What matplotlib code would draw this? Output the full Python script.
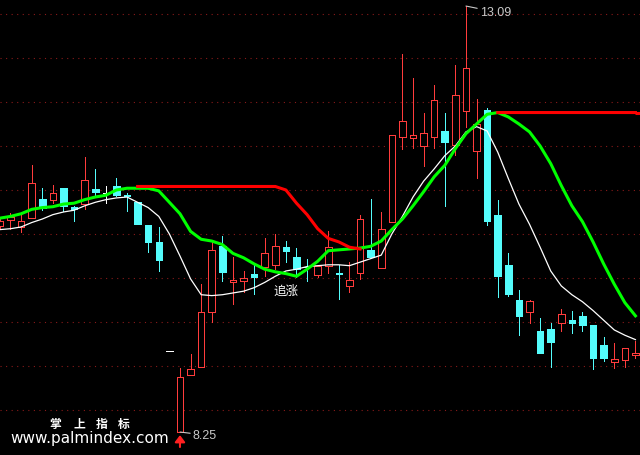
import matplotlib
matplotlib.use("Agg")
import matplotlib.pyplot as plt
import numpy as np

# candles (price units)
opens = [10.59, 10.66, 10.58, 10.68, 10.90, 10.89, 11.02, 10.81, 10.84, 11.01,
         10.97, 11.05, 10.94, 10.86, 10.60, 10.41, 9.17, 8.25, 8.90, 8.99,
         9.61, 10.36, 9.96, 9.97, 10.05, 10.13, 10.15, 10.35, 10.24, 10.13,
         10.03, 10.14, 10.06, 9.91, 10.06, 10.32, 10.11, 10.64, 11.60, 11.59,
         11.50, 11.60, 11.67, 11.51, 11.90, 11.44, 11.91, 10.72, 10.15, 9.75,
         9.61, 9.40, 9.42, 9.49, 9.52, 9.57, 9.47, 9.24, 9.05, 9.07, 9.13]
highs = [10.68, 10.74, 10.73, 11.28, 11.02, 11.06, 11.02, 10.82, 11.38, 11.24,
         11.05, 11.14, 10.97, 10.86, 10.60, 10.58, 9.17, 8.98, 9.14, 9.93,
         10.41, 10.48, 10.24, 10.08, 10.15, 10.45, 10.50, 10.42, 10.34, 10.22,
         10.14, 10.53, 10.15, 10.18, 10.72, 10.90, 10.75, 11.63, 12.55, 12.27,
         11.88, 12.19, 11.88, 12.42, 13.09, 12.03, 11.93, 10.89, 10.28, 9.86,
         9.75, 9.55, 9.49, 9.65, 9.63, 9.61, 9.47, 9.33, 9.26, 9.20, 9.28]
lows = [10.57, 10.56, 10.52, 10.68, 10.77, 10.85, 10.76, 10.65, 10.78, 10.93,
        10.85, 10.93, 10.76, 10.61, 10.30, 10.08, 9.17, 8.25, 8.90, 8.99,
        9.50, 9.97, 9.70, 9.84, 9.82, 10.02, 10.10, 10.18, 10.01, 9.97,
        10.01, 10.06, 9.76, 9.84, 9.99, 10.24, 10.11, 10.64, 11.47, 11.48,
        11.27, 11.48, 10.82, 11.40, 11.72, 11.14, 10.60, 9.78, 9.80, 9.35,
        9.49, 9.15, 8.99, 9.40, 9.38, 9.40, 8.97, 9.06, 8.98, 8.99, 9.09]
closes = [10.65, 10.69, 10.65, 11.08, 10.80, 10.97, 10.82, 10.78, 11.11, 10.98,
          10.97, 10.94, 10.93, 10.61, 10.41, 10.20, 9.17, 8.88, 8.97, 9.61,
          10.32, 10.07, 9.98, 10.00, 10.01, 10.28, 10.36, 10.31, 10.10, 10.12,
          10.14, 10.35, 10.04, 9.98, 10.67, 10.24, 10.56, 11.63, 11.78, 11.63,
          11.65, 12.02, 11.55, 12.08, 12.39, 11.75, 10.65, 10.02, 9.82, 9.57,
          9.74, 9.15, 9.27, 9.59, 9.49, 9.47, 9.09, 9.09, 9.08, 9.20, 9.15]

# indicator lines
white_line = [10.55, 10.56, 10.58, 10.63, 10.67, 10.72, 10.75, 10.77, 10.82, 10.86,
              10.89, 10.91, 10.92, 10.86, 10.80, 10.70, 10.50, 10.25, 9.99, 9.81,
              9.80, 9.81, 9.83, 9.85, 9.89, 9.95, 10.02, 10.08, 10.10, 10.13,
              10.14, 10.15, 10.15, 10.14, 10.18, 10.22, 10.26, 10.50, 10.70, 10.92,
              11.10, 11.24, 11.39, 11.50, 11.66, 11.72, 11.67, 11.43, 11.13, 10.84,
              10.61, 10.35, 10.08, 9.91, 9.81, 9.73, 9.63, 9.52, 9.41, 9.35, 9.30]
green_line = [10.68, 10.70, 10.73, 10.78, 10.80, 10.81, 10.84, 10.85, 10.89, 10.92,
              10.94, 11.00, 11.02, 11.02, 11.02, 10.99, 10.86, 10.73, 10.53, 10.44,
              10.42, 10.38, 10.28, 10.23, 10.16, 10.10, 10.07, 10.05, 10.02, 10.10,
              10.19, 10.31, 10.32, 10.33, 10.34, 10.36, 10.42, 10.55, 10.67, 10.82,
              10.98, 11.15, 11.28, 11.47, 11.64, 11.75, 11.86, 11.88, 11.83, 11.75,
              11.66, 11.50, 11.30, 11.05, 10.82, 10.64, 10.41, 10.16, 9.93, 9.72, 9.57]
nan = np.nan
red_line = [nan] * 13 + [11.04] * 14 + [11.00, 10.85, 10.72, 10.56, 10.45, 10.41, 10.35, 10.33] \
           + [nan] * 12 + [11.88] * 14

grid_levels = [8.5, 9.0, 9.5, 10.0, 10.5, 11.0, 11.5, 12.0, 12.5, 13.0]
signal_text = "追涨"
signal_idx = 27
signal_price = 9.86

RED = '#ff3c3c'
CYAN = '#54fcfc'
LW = 0.55  # about one pixel

fig = plt.figure(figsize=(6.4, 4.56), dpi=100, facecolor='black')
ax = fig.add_axes([0, 0, 1, 1])
ax.set_facecolor('black')
ax.set_xlim(0.009, 60.43)
ax.set_ylim(7.989, 13.170)
ax.axis('off')

for lvl in grid_levels:
    ax.axhline(lvl, color='#8a1a1a', lw=0.8, ls=(0, (1, 4)), zorder=0)

o = np.array(opens)
h = np.array(highs)
l = np.array(lows)
c = np.array(closes)
idx = np.arange(len(o))
up = c > o
down = c < o
flat = c == o
w = 0.62

# wicks
for i in idx:
    if up[i]:
        ax.vlines(i, c[i], h[i], color=RED, lw=LW, zorder=1, antialiased=False)
        ax.vlines(i, l[i], o[i], color=RED, lw=LW, zorder=1, antialiased=False)
    elif down[i]:
        ax.vlines(i, l[i], h[i], color=CYAN, lw=LW, zorder=1, antialiased=False)
    else:
        ax.vlines(i, l[i], h[i], color='white', lw=LW, zorder=1, antialiased=False)

ax.bar(idx[up], (c - o)[up], bottom=o[up], width=w, facecolor='black',
       edgecolor=RED, linewidth=LW, zorder=2, antialiased=False)
ax.bar(idx[down], (o - c)[down], bottom=c[down], width=w, facecolor=CYAN,
       edgecolor=CYAN, linewidth=LW, zorder=2, antialiased=False)
ax.hlines(c[flat], idx[flat] - w / 2, idx[flat] + w / 2, color='white', lw=LW,
          zorder=2, antialiased=False)

ax.plot(idx, white_line, color='white', lw=0.9, zorder=3)
ax.plot(idx, green_line, color='#00ff00', lw=2.2, zorder=4)
ax.plot(idx, red_line, color='#ff0000', lw=2.2, zorder=5)
# the last red segment runs on to the right edge
ax.hlines(red_line[-1], idx[-1], ax.get_xlim()[1], color='#ff0000', lw=2.2, zorder=5)

# high / low markers
hi_i = int(np.argmax(h))
lo_i = int(np.argmin(l))
ax.annotate("%.2f" % h[hi_i], xy=(hi_i, h[hi_i]), xytext=(14, -6),
            textcoords='offset pixels', color='#c8c8c8', fontsize=9,
            family='Liberation Sans', ha='left', va='center',
            arrowprops=dict(arrowstyle='-', color='#c8c8c8', lw=0.8,
                            shrinkA=0, shrinkB=0))
ax.annotate("%.2f" % l[lo_i], xy=(lo_i, l[lo_i]), xytext=(13, -3),
            textcoords='offset pixels', color='#c8c8c8', fontsize=9,
            family='Liberation Sans', ha='left', va='center',
            arrowprops=dict(arrowstyle='-', color='#c8c8c8', lw=0.8,
                            shrinkA=0, shrinkB=0))
ax.annotate('', xy=(lo_i, l[lo_i]), xytext=(0, -15), textcoords='offset pixels',
            arrowprops=dict(arrowstyle='-|>,head_width=0.3,head_length=0.4',
                            color='#ff2020', lw=1.5, shrinkA=0, shrinkB=2.2,
                            mutation_scale=10))

ax.text(signal_idx, signal_price, signal_text, color='white', fontsize=9,
        family=['Noto Sans CJK SC', 'DejaVu Sans'], ha='center', va='center', zorder=6)

# watermark
for ch, px in zip("掌上指标", [55.5, 79, 101.5, 124]):
    fig.text(px / 640, (456 - 424.5) / 456, ch, color='white', fontsize=8.5,
             fontweight='bold', family=['Noto Sans CJK SC', 'DejaVu Sans'],
             ha='center', va='center')
fig.text(10 / 640, 13 / 456, "www.palmindex.com", color='white', fontsize=11,
         family='DejaVu Sans', ha='left', va='baseline')

fig.savefig('out.png', dpi=100, facecolor='black')
